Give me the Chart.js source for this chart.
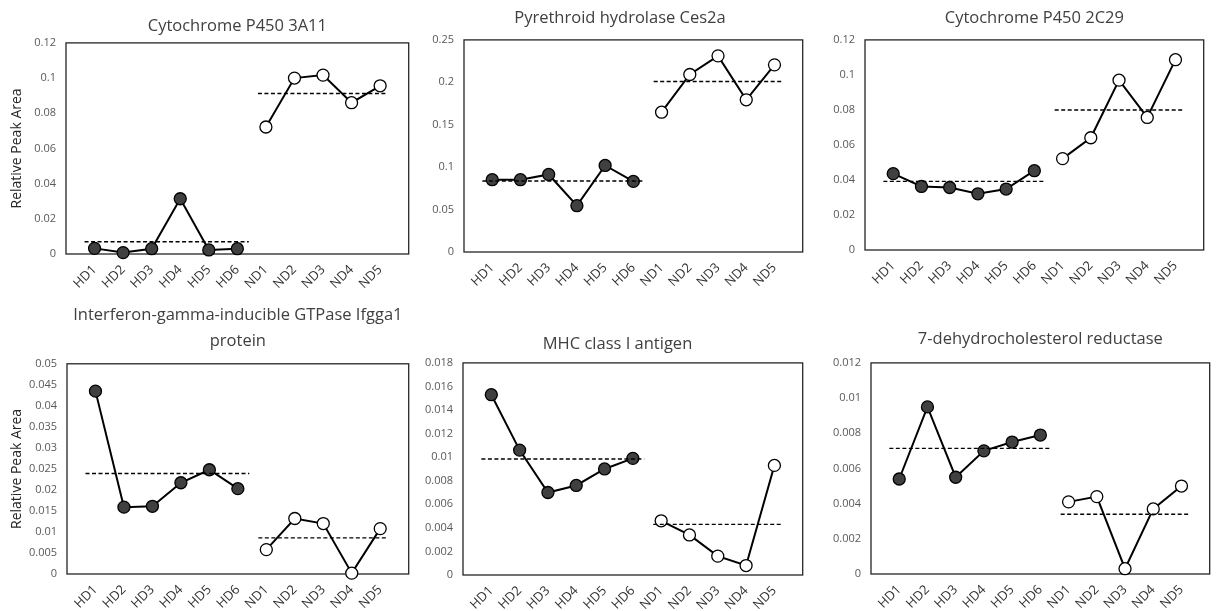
<!DOCTYPE html>
<html>
<head>
<meta charset="utf-8">
<script src="https://cdn.jsdelivr.net/npm/chart.js@4"></script>
<style>
  html, body { margin: 0; padding: 0; background: #fff; overflow: hidden; }
  #wrap { position: relative; width: 1216px; height: 611px; }
  canvas { position: absolute; }
</style>
</head>
<body>
<div id="wrap"></div>
<script>
// sample labels on the x axis
const categories = ['HD1', 'HD2', 'HD3', 'HD4', 'HD5', 'HD6', 'ND1', 'ND2', 'ND3', 'ND4', 'ND5'];

// Cytochrome P450 3A11
const cyp3a11HD = [0.0032, 0.0008, 0.003, 0.0314, 0.0023, 0.003];
const cyp3a11ND = [0.0722, 0.1, 0.1017, 0.086, 0.0956];
const cyp3a11Mean = [0.007, 0.0912];

// Pyrethroid hydrolase Ces2a
const ces2aHD = [0.0852, 0.0852, 0.0914, 0.0546, 0.102, 0.0832];
const ces2aND = [0.1648, 0.2092, 0.2312, 0.1794, 0.2206];
const ces2aMean = [0.0836, 0.201];

// Cytochrome P450 2C29
const cyp2c29HD = [0.0436, 0.0363, 0.0357, 0.0321, 0.0348, 0.0453];
const cyp2c29ND = [0.0522, 0.0641, 0.097, 0.0757, 0.1087];
const cyp2c29Mean = [0.0392, 0.080];

// Interferon-gamma-inducible GTPase Ifgga1 protein
const ifggaHD = [0.0435, 0.0159, 0.0161, 0.0217, 0.0248, 0.0203];
const ifggaND = [0.0058, 0.0132, 0.012, 0.0002, 0.0108];
const ifggaMean = [0.0239, 0.0086];

// MHC class I antigen
const mhcHD = [0.0153, 0.0106, 0.007, 0.0076, 0.009, 0.0099];
const mhcND = [0.0046, 0.0034, 0.0016, 0.0008, 0.0093];
const mhcMean = [0.00985, 0.0043];

// 7-dehydrocholesterol reductase
const dhcrHD = [0.0054, 0.0095, 0.0055, 0.007, 0.0075, 0.0079];
const dhcrND = [0.0041, 0.0044, 0.0003, 0.0037, 0.005];
const dhcrMean = [0.00714, 0.0034];

const titles = [
  'Cytochrome P450 3A11',
  'Pyrethroid hydrolase Ces2a',
  'Cytochrome P450 2C29',
  ['Interferon-gamma-inducible GTPase Ifgga1', 'protein'],
  'MHC class I antigen',
  '7-dehydrocholesterol reductase'
];
const yMax = [0.12, 0.25, 0.12, 0.05, 0.018, 0.012];
const yStep = [0.02, 0.05, 0.02, 0.005, 0.002, 0.002];
const hdSeries = [cyp3a11HD, ces2aHD, cyp2c29HD, ifggaHD, mhcHD, dhcrHD];
const ndSeries = [cyp3a11ND, ces2aND, cyp2c29ND, ifggaND, mhcND, dhcrND];
const means = [cyp3a11Mean, ces2aMean, cyp2c29Mean, ifggaMean, mhcMean, dhcrMean];

// where each panel sits on the page
const panels = [
  { left: 0,   top: 0,   w: 416, h: 300, yW: 66, xH: 46, tTop: 13, tBot: 3.5,  full: false, yTitle: true },
  { left: 430, top: 0,   w: 380, h: 300, yW: 34, xH: 48, tTop: 5,  tBot: 8.5,  full: true,  yTitle: false },
  { left: 829, top: 0,   w: 382, h: 300, yW: 36, xH: 50, tTop: 5,  tBot: 8.5,  full: false, yTitle: false },
  { left: 0,   top: 300, w: 416, h: 311, yW: 67, xH: 37, tTop: 2,  tBot: 9,    full: false, yTitle: true },
  { left: 425, top: 300, w: 385, h: 311, yW: 38, xH: 36, tTop: 31, tBot: 5.5,  full: true,  yTitle: false },
  { left: 833, top: 300, w: 384, h: 311, yW: 38, xH: 37, tTop: 26, tBot: 10.5, full: false, yTitle: false }
];

const FONT = "'Open Sans', 'Noto Sans', sans-serif";

const boxPlugin = {
  id: 'plotBox',
  beforeDatasetsDraw(chart) {
    const a = chart.chartArea;
    const ctx = chart.ctx;
    ctx.save();
    ctx.strokeStyle = '#262626';
    ctx.lineWidth = 1.3;
    ctx.strokeRect(a.left, a.top, a.right - a.left, a.bottom - a.top);
    ctx.restore();
  }
};

function meanLine(value, x0, x1) {
  return {
    data: [{ x: x0, y: value }, { x: x1, y: value }],
    borderColor: '#000',
    borderWidth: 1.4,
    borderDash: [4, 2.5],
    pointRadius: 0,
    order: 0,
    clip: false
  };
}

panels.forEach((p, k) => {
  const canvas = document.createElement('canvas');
  canvas.width = p.w;
  canvas.height = p.h;
  canvas.style.left = p.left + 'px';
  canvas.style.top = p.top + 'px';
  document.getElementById('wrap').appendChild(canvas);

  const hd = hdSeries[k].map((v, i) => ({ x: i + 1, y: v }));
  const nd = ndSeries[k].map((v, i) => ({ x: i + 7, y: v }));

  new Chart(canvas.getContext('2d'), {
    type: 'line',
    data: {
      datasets: [
        meanLine(means[k][0], 0.65, 6.4),
        meanLine(means[k][1], 6.72, 11.25),
        {
          data: hd,
          borderColor: '#000',
          borderWidth: 2,
          pointRadius: 6,
          pointBackgroundColor: '#404040',
          pointBorderColor: '#000',
          pointBorderWidth: 1.3,
          order: 1,
          clip: false
        },
        {
          data: nd,
          borderColor: '#000',
          borderWidth: 2,
          pointRadius: 6,
          pointBackgroundColor: '#fff',
          pointBorderColor: '#000',
          pointBorderWidth: 1.3,
          order: 1,
          clip: false
        }
      ]
    },
    options: {
      responsive: false,
      animation: false,
      layout: { padding: 0 },
      plugins: {
        legend: { display: false },
        tooltip: { enabled: false },
        title: {
          display: true,
          text: titles[k],
          fullSize: p.full,
          color: '#404040',
          font: { family: FONT, size: 16.5, weight: 'normal', lineHeight: 1.6 },
          padding: { top: p.tTop, bottom: p.tBot }
        }
      },
      scales: {
        x: {
          type: 'linear',
          min: 0,
          max: 12,
          grid: { display: false, drawTicks: false },
          border: { display: false },
          afterBuildTicks(scale) {
            scale.ticks = categories.map((c, i) => ({ value: i + 1 }));
          },
          afterFit(scale) { scale.height = p.xH; },
          ticks: {
            autoSkip: false,
            maxRotation: 45,
            minRotation: 45,
            padding: 8,
            color: '#333',
            font: { family: FONT, size: 13 },
            callback: v => categories[v - 1]
          }
        },
        y: {
          min: 0,
          max: yMax[k],
          grid: { display: false, drawTicks: false },
          border: { display: false },
          afterFit(scale) { scale.width = p.yW; },
          ticks: {
            stepSize: yStep[k],
            padding: 10,
            color: '#595959',
            font: { family: FONT, size: 11 },
            callback: v => String(+v.toFixed(4))
          },
          title: {
            display: p.yTitle,
            text: 'Relative Peak Area',
            color: '#262626',
            font: { family: FONT, size: 14 },
            padding: { top: 9, bottom: 0 }
          }
        }
      }
    },
    plugins: [boxPlugin]
  });
});
</script>
</body>
</html>
